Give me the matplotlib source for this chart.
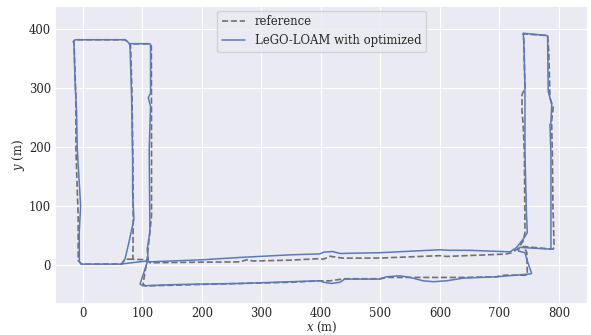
import numpy as np
import matplotlib.pyplot as plt
import seaborn as sns

sns.set_theme(style="darkgrid")
plt.rcParams['font.family'] = ['DejaVu Serif']
plt.rcParams['mathtext.fontset'] = 'dejavuserif'

# reference trajectory (x, y in metres)
ref_x = [84, 70.6, 65, -3, -8, -8, -10, -11.8, -11.8, -13.5, -15, -16, -13, 71, 76, 80,
         81, 82.5, 84, 84.5, 84, 107, 113, 200, 264, 275, 286, 348, 398, 404, 415, 437,
         499, 600, 611, 706, 712, 720, 731.6, 740, 743, 742, 740, 738, 738, 743, 741, 740,
         781, 783, 785, 790.4, 787.7, 789, 790, 792, 790, 740, 746, 747, 745, 709, 695,
         639, 561, 513, 499, 440, 415, 398, 348, 264, 219, 150, 105, 101, 108, 110, 115.3,
         115.3, 115, 113, 79]
ref_y = [10, 10, 2, 1.7, 8, 83, 140, 196, 285, 330, 375, 378, 381, 381, 377, 372,
         342, 286, 180, 72, 10, 9, 4, 5, 5.6, 9, 7, 8.4, 11, 10, 15, 11.8,
         12, 16, 14.7, 18.5, 19, 21, 28, 41, 55, 187, 238, 260, 288, 300, 380, 391,
         388, 360, 283, 266, 243, 187, 100, 30, 27, 31.5, 22, -15, -17, -17, -19.7,
         -20.8, -20.8, -20.8, -23, -23, -26.5, -26.5, -29, -31, -32, -34, -35, -32, 10, 32.6, 83,
         196, 370, 374, 374]

# LeGO-LOAM with optimized trajectory
est_x = [65, -2, -6, -6.2, -3.9, -6.2, -9.5, -10.6, -13.4, -15, -16, -13, 70.6, 76, 79,
         80, 81.8, 83.5, 83.5, 85.7, 76, 70.6, 65, 107, 112.6, 200, 264, 348, 398, 405,
         420, 432, 499, 600, 617, 650, 718, 729, 740, 747, 745.6, 743, 743, 741, 740,
         781, 782, 788, 786.6, 785, 786.6, 786.6, 734, 731.6, 743, 746, 754, 751, 695,
         639, 611, 589, 572, 550, 533, 510, 499, 440, 432, 418, 405, 398, 365, 264, 200,
         150, 101, 96, 109.8, 108, 112.6, 111.4, 113.7, 111.4, 109.8, 113.7, 113.7, 112.6, 79]
est_y = [1.7, 1.7, 6, 55, 100, 140, 196, 257, 314, 375, 378, 381, 381, 376.6, 372.7,
         342, 285, 179, 122.6, 77.6, 32.6, 10, 2, 7, 5.6, 9, 13, 17.4, 19, 22,
         23, 19.7, 21, 26, 25, 25, 22.5, 30, 44, 55, 83, 187, 300, 380, 392,
         388, 294, 271.5, 240.6, 238, 187, 27, 30, 24, 21, 10, -14, -15, -19.7,
         -22, -26.5, -28, -26.5, -20.8, -18, -19.7, -23.6, -23.6, -29, -31, -29, -26.5, -27.5, -31, -32,
         -33, -35, -32, 10, 27, 55.6, 195.6, 268.6, 277, 282.8, 291, 370, 374.4, 374.4]

fig = plt.figure(figsize=(5.91, 3.35), dpi=100)
ax = fig.add_axes([0.093, 0.092, 0.902, 0.89])

ax.plot(ref_x, ref_y, '--', color='#707070', linewidth=1.2, label='reference')
ax.plot(est_x, est_y, '-', color='#5b79b9', linewidth=1.1, label='LeGO-LOAM with optimized')

ax.set_xlim(-47, 849)
ax.set_ylim(-66, 438)
ax.set_xticks(np.arange(0, 801, 100))
ax.set_yticks(np.arange(0, 401, 100))
ax.tick_params(labelsize=8.4, length=0)
ax.tick_params(axis='x', pad=2)
ax.tick_params(axis='y', pad=3)
ax.grid(linewidth=0.8)
ax.set_xlabel('$x$ (m)', fontsize=8.4, labelpad=0)
ax.set_ylabel('$y$ (m)', fontsize=8.4, labelpad=1)
ax.legend(loc='upper center', fontsize=8.4, borderaxespad=0.4)

fig.savefig('out.png', dpi=100)
